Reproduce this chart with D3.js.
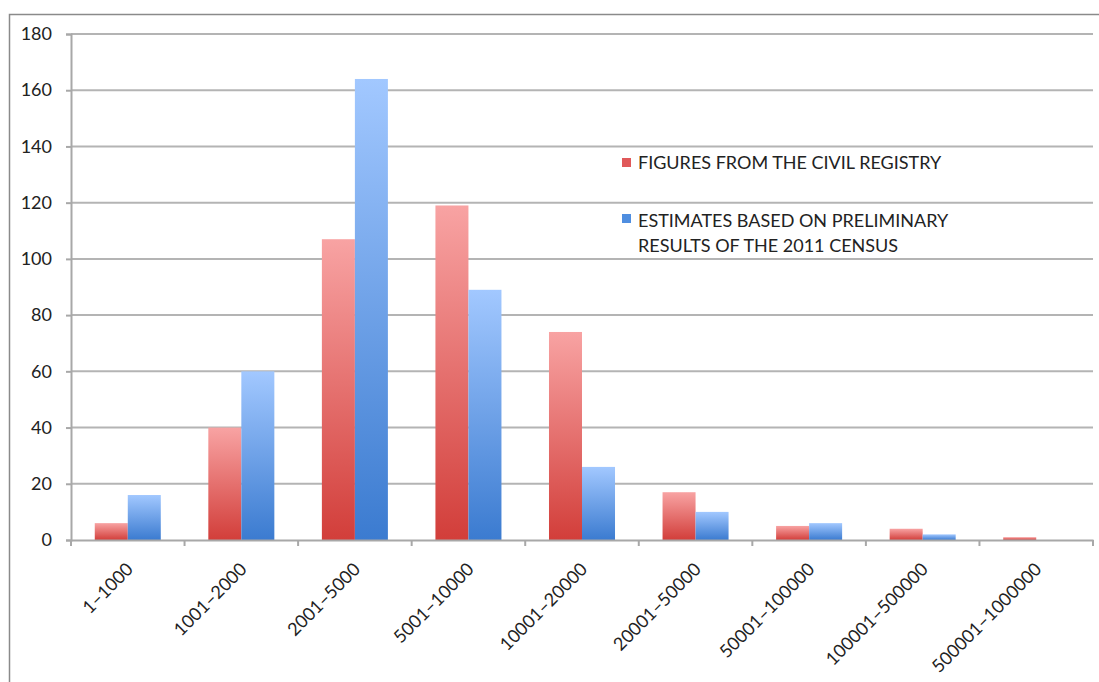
<!DOCTYPE html>
<html>
<head>
<meta charset="utf-8">
<script src="https://cdn.jsdelivr.net/npm/d3@7"></script>
<style>
  html, body { margin: 0; padding: 0; background: #fff; }
  svg { display: block; }
  text { font-family: Lato, "Open Sans", sans-serif; fill: #222; }
</style>
</head>
<body>
<svg id="chart" width="1099" height="682"></svg>
<script>
// Number of settlements by population size
const categories = ["1–1000", "1001–2000", "2001–5000", "5001–10000", "10001–20000",
                    "20001–50000", "50001–100000", "100001–500000", "500001–1000000"];
const registryValues = [6, 40, 107, 119, 74, 17, 5, 4, 1];
const censusValues = [16, 60, 164, 89, 26, 10, 6, 2, 0];
const seriesNames = ["FIGURES FROM THE CIVIL REGISTRY",
                     "ESTIMATES BASED ON PRELIMINARY RESULTS OF THE 2011 CENSUS"];
const yTicks = [0, 20, 40, 60, 80, 100, 120, 140, 160, 180];

const svg = d3.select("#chart");
const W = 1099, H = 682;
const margin = { left: 71, right: 6, top: 34, bottom: 142 };
const x0 = margin.left, x1 = W - margin.right;
const y0 = H - margin.bottom, y1 = margin.top;
const FS = 18;

// outer frame (top and left edges)
svg.append("path")
  .attr("d", `M9.5,${H} L9.5,14.5 L${W},14.5`)
  .attr("fill", "none").attr("stroke", "#8a8a8a").attr("stroke-width", 1.5);

// gradients
const defs = svg.append("defs");
function grad(id, top, bottom) {
  const g = defs.append("linearGradient").attr("id", id)
    .attr("x1", 0).attr("y1", 0).attr("x2", 0).attr("y2", 1);
  g.append("stop").attr("offset", "0%").attr("stop-color", top);
  g.append("stop").attr("offset", "100%").attr("stop-color", bottom);
}
grad("gRed", "#f8a3a3", "#d23e3a");
grad("gBlue", "#a2c8ff", "#3b7bd0");

const x = d3.scaleBand().domain(categories).range([x0, x1]).paddingInner(0).paddingOuter(0);
const xs = d3.scaleBand().domain([0, 1]).range([0, x.bandwidth()]).paddingInner(0).paddingOuter(0.72);
const y = d3.scaleLinear().domain([0, 180]).range([y0, y1]);

// gridlines
svg.append("g").selectAll("line").data(yTicks.filter(d => d > 0)).join("line")
  .attr("x1", x0).attr("x2", x1)
  .attr("y1", d => y(d)).attr("y2", d => y(d))
  .attr("stroke", "#b4b4b4").attr("stroke-width", 2);

// bars
const series = [
  { values: registryValues, fill: "url(#gRed)", key: 0 },
  { values: censusValues, fill: "url(#gBlue)", key: 1 }
];
series.forEach(s => {
  svg.append("g").selectAll("rect")
    .data(categories.map((c, i) => ({ c, v: s.values[i] })).filter(d => d.v > 0))
    .join("rect")
    .attr("x", d => x(d.c) + xs(s.key))
    .attr("width", xs.bandwidth())
    .attr("y", d => y(d.v))
    .attr("height", d => y0 - y(d.v))
    .attr("fill", s.fill);
});

// y axis
const yAxis = svg.append("g").attr("transform", `translate(${x0},0)`)
  .call(d3.axisLeft(y).tickValues(yTicks).tickSize(5).tickPadding(14))
  .attr("font-size", FS).attr("font-family", "Lato, sans-serif");
yAxis.select(".domain").attr("stroke", "#a8a8a8").attr("stroke-width", 2);
yAxis.selectAll(".tick line").attr("stroke", "#a8a8a8").attr("stroke-width", 2);
yAxis.selectAll(".tick text").style("font-size", FS + "px").attr("fill", "#222");

// x axis
const xAxis = svg.append("g").attr("transform", `translate(0,${y0})`)
  .call(d3.axisBottom(x).tickSize(0).tickFormat(""));
xAxis.select(".domain").attr("stroke", "#a8a8a8").attr("stroke-width", 2);
const boundaries = d3.range(categories.length + 1).map(i => x0 + i * x.bandwidth());
xAxis.selectAll(".bnd").data(boundaries).join("line").attr("class", "bnd")
  .attr("x1", d => d).attr("x2", d => d).attr("y1", 0).attr("y2", 6)
  .attr("stroke", "#a8a8a8").attr("stroke-width", 2);
svg.append("g").selectAll("text").data(categories).join("text")
  .attr("transform", d => `translate(${x(d) + x.bandwidth() / 2 + 2},${y0 + 26}) rotate(-45)`)
  .attr("text-anchor", "end").attr("dy", "0.35em")
  .style("font-size", FS + "px")
  .text(d => d);

// legend
const legend = svg.append("g").style("font-size", FS + "px");
legend.append("rect").attr("x", 622).attr("y", 158).attr("width", 9).attr("height", 9).attr("fill", "#e0595a");
legend.append("text").attr("x", 638).attr("y", 169).text(seriesNames[0]);
legend.append("rect").attr("x", 622).attr("y", 214).attr("width", 9).attr("height", 9).attr("fill", "#4f8ee0");
legend.append("text").attr("x", 638).attr("y", 227).text("ESTIMATES BASED ON PRELIMINARY");
legend.append("text").attr("x", 638).attr("y", 252).text("RESULTS OF THE 2011 CENSUS");
</script>
</body>
</html>
